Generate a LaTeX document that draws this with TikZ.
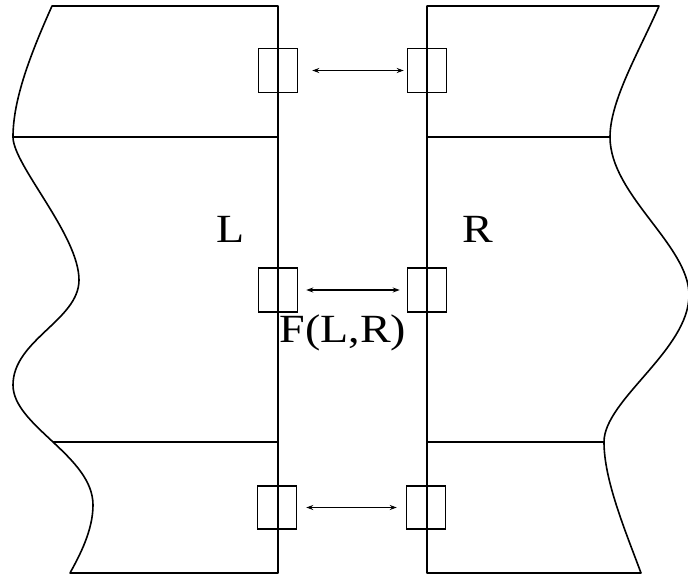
\documentclass[tikz,border=0pt]{standalone}
\usepackage{fontspec}
\setmainfont{Liberation Serif}
\usetikzlibrary{arrows.meta}
\begin{document}
\begin{tikzpicture}[x=1pt,y=-1pt,
  outline/.style={line width=1.6pt, line join=round},
  joint/.style={draw, line width=1.5pt, minimum width=39pt, minimum height=44pt, inner sep=0pt},
  link/.style={line width=1.4pt, {Stealth[length=7pt,width=5pt]}-{Stealth[length=7pt,width=5pt]}},
  lbl/.style={anchor=base, inner sep=0pt, xscale=1.15, font=\fontsize{40}{40}\selectfont}]
\useasboundingbox (0,0) rectangle (688,576);
% left piece
\draw[outline] (278,6) -- (52,6)
  .. controls (30,55) and (13,100) .. (13,137)
  .. controls (13,165) and (79,235) .. (79,280)
  .. controls (79,320) and (13,340) .. (13,385)
  .. controls (13,426) and (93,456) .. (93,505)
  .. controls (93,530) and (80,555) .. (70,573)
  -- (278,573) -- cycle;
\draw[outline] (13,137) -- (278,137);
\draw[outline] (53,442) -- (278,442);
% right piece
\draw[outline] (427,6) -- (659,6)
  .. controls (640,50) and (610,100) .. (610,137)
  .. controls (610,195) and (689,245) .. (689,295)
  .. controls (689,350) and (604,400) .. (604,442)
  .. controls (604,480) and (625,530) .. (641,573)
  -- (427,573) -- cycle;
\draw[outline] (427,137) -- (610,137);
\draw[outline] (427,442) -- (604,442);
% joints
\node[joint] (lb1) at (278,70.5) {};
\node[joint] (rb1) at (427,70.5) {};
\node[joint] (lb2) at (278,290) {};
\node[joint] (rb2) at (427,290) {};
\node[joint, minimum height=43pt] (lb3) at (277,507.5) {};
\node[joint, minimum height=43pt] (rb3) at (426,507.5) {};
% links
\draw[link, shorten <=14pt, shorten >=3pt] (lb1) -- (rb1);
\draw[link, shorten <=8pt, shorten >=7pt] (lb2) -- (rb2);
\draw[link, shorten <=9pt, shorten >=9pt] (lb3) -- (rb3);
% labels
\node[lbl] (tL) at (231,242) {L};
\node[lbl] (tR) at (478,242) {R};
\node[lbl] (tF) at (343,342) {F(L,R)};
\end{tikzpicture}
\end{document}
